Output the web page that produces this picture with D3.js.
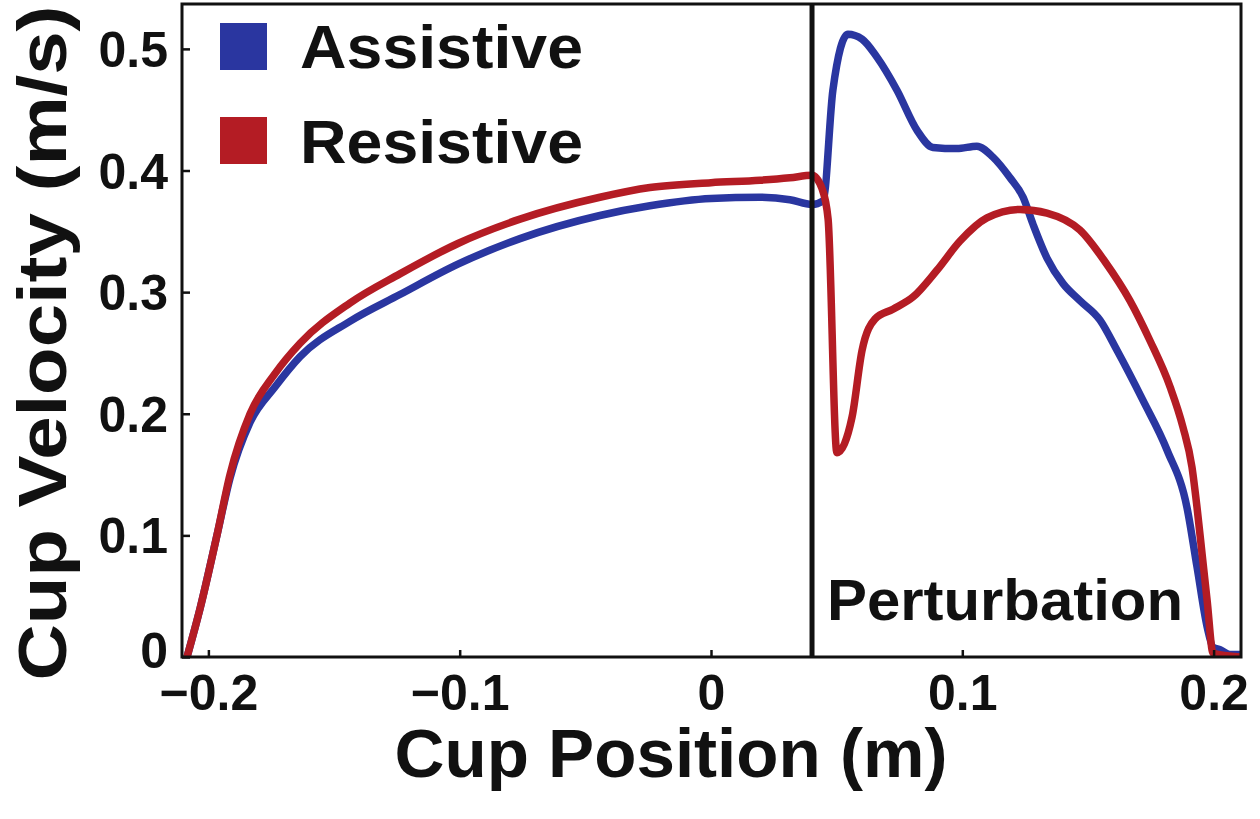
<!DOCTYPE html>
<html><head><meta charset="utf-8">
<script src="https://cdn.jsdelivr.net/npm/d3@7"></script>
<style>body{margin:0;background:#fff}svg{display:block}</style>
</head><body><svg id="c" width="1260" height="819"></svg>
<script>
const seriesNames = ["Assistive", "Resistive"];
const seriesColors = ["#2a36a0", "#b41c24"];
const assistX = [-0.2085,-0.2033,-0.1966,-0.1914,-0.1834,-0.1735,-0.1635,-0.1437,-0.1238,-0.1007,-0.0760,-0.0442,-0.0243,0,0.0195,0.0314,0.0402,0.0446,0.0485,0.0545,0.0601,0.0661,0.0740,0.0820,0.0883,0.0979,0.1058,0.1122,0.1190,0.1242,0.1281,0.1337,0.1401,0.1468,0.1548,0.1616,0.1719,0.1815,0.1894,0.1934,0.1974,0.1998,0.2026,0.2065,0.2105];
const assistY = [0,0.04,0.10,0.147,0.193,0.222,0.247,0.276,0.298,0.323,0.344,0.363,0.371,0.377,0.378,0.376,0.372,0.375,0.466,0.512,0.508,0.493,0.466,0.433,0.419,0.418,0.420,0.411,0.394,0.378,0.356,0.328,0.307,0.293,0.277,0.252,0.211,0.170,0.123,0.074,0.025,0.008,0.006,0.002,0.002];
const resistX = [-0.2085,-0.2033,-0.1966,-0.1914,-0.1834,-0.1735,-0.1635,-0.1437,-0.1238,-0.1007,-0.0760,-0.0442,-0.0243,0,0.0195,0.0314,0.0402,0.0442,0.0466,0.0501,0.0561,0.0601,0.0653,0.0724,0.0804,0.0899,0.0991,0.1098,0.1230,0.1337,0.1468,0.1568,0.1667,0.1747,0.1827,0.1878,0.1914,0.1934,0.1954,0.1974,0.1998,0.2105];
const resistY = [0,0.04,0.10,0.15,0.20,0.233,0.258,0.291,0.315,0.340,0.360,0.378,0.386,0.390,0.392,0.394,0.396,0.385,0.36,0.168,0.197,0.252,0.278,0.286,0.296,0.318,0.342,0.361,0.368,0.365,0.351,0.325,0.293,0.260,0.222,0.189,0.156,0.123,0.085,0.047,0.003,0];
const xTicks = [-0.2,-0.1,0,0.1,0.2];
const xTickLabels = ["\u22120.2","\u22120.1","0","0.1","0.2"];
const yTicks = [0,0.1,0.2,0.3,0.4,0.5];
const yTickLabels = ["0","0.1","0.2","0.3","0.4","0.5"];
const perturbationX = 0.0402;
const xTitle = "Cup Position (m)";
const yTitle = "Cup Velocity (m/s)";
const annotation = "Perturbation";

const svg = d3.select("#c");
const font = "'Liberation Sans', Arial, sans-serif";
const L = 182, R = 1241, T = 4, B = 657;
const x = d3.scaleLinear().domain([-0.2105, 0.2109]).range([L, R]);
const y = d3.scaleLinear().domain([0, 0.5369]).range([B, T]);

const series = [
  {name: seriesNames[0], color: seriesColors[0], pts: assistX.map((v,i)=>[v, assistY[i]])},
  {name: seriesNames[1], color: seriesColors[1], pts: resistX.map((v,i)=>[v, resistY[i]])}
];

svg.append("defs").append("clipPath").attr("id","clip").append("rect")
  .attr("x",L).attr("y",T).attr("width",R-L).attr("height",B-T);

const line = d3.line().x(d=>x(d[0])).y(d=>y(d[1])).curve(d3.curveMonotoneX);
svg.append("g").attr("clip-path","url(#clip)").selectAll("path").data(series).join("path")
  .attr("d", d=>line(d.pts)).attr("fill","none").attr("stroke", d=>d.color)
  .attr("stroke-width",7.5).attr("stroke-linejoin","round").attr("stroke-linecap","round");

// perturbation line
svg.append("line").attr("x1",x(perturbationX)).attr("x2",x(perturbationX))
  .attr("y1",T).attr("y2",B).attr("stroke","#111").attr("stroke-width",5);

// axes
const xa = svg.append("g").attr("transform",`translate(0,${B})`)
  .call(d3.axisBottom(x).tickValues(xTicks).tickFormat((d,i)=>xTickLabels[i]).tickSizeInner(-7).tickSizeOuter(0).tickPadding(17));
const ya = svg.append("g").attr("transform",`translate(${L},0)`)
  .call(d3.axisLeft(y).tickValues(yTicks).tickFormat((d,i)=>yTickLabels[i]).tickSizeInner(-8).tickSizeOuter(0).tickPadding(14));
[xa, ya].forEach(a=>{
  a.select(".domain").remove();
  a.selectAll(".tick line").attr("stroke","#111").attr("stroke-width",2.5);
  a.selectAll(".tick text").attr("font-family",font).attr("font-weight","bold")
    .attr("font-size",50).attr("fill","#111");
});
ya.selectAll(".tick text").attr("dy",(d,i)=> i===0 ? "0.2em" : "0.35em");
xa.selectAll(".tick text").attr("dy","0.71em");

// frame
svg.append("rect").attr("x",L).attr("y",T).attr("width",R-L).attr("height",B-T)
  .attr("fill","none").attr("stroke","#111").attr("stroke-width",3);

// titles
svg.append("text").attr("x",671).attr("y",777).attr("text-anchor","middle")
  .attr("font-family",font).attr("font-weight","bold").attr("font-size",68).attr("fill","#111")
  .attr("textLength",553).attr("lengthAdjust","spacingAndGlyphs").text(xTitle);
svg.append("text").attr("transform",`translate(66,343) rotate(-90)`).attr("text-anchor","middle")
  .attr("font-family",font).attr("font-weight","bold").attr("font-size",68).attr("fill","#111")
  .attr("textLength",675).attr("lengthAdjust","spacingAndGlyphs").text(yTitle);

// annotation
svg.append("text").attr("x",827).attr("y",620).attr("font-family",font).attr("font-weight","bold")
  .attr("font-size",57).attr("fill","#111").attr("textLength",356).attr("lengthAdjust","spacingAndGlyphs").text(annotation);

// legend
const lg = svg.append("g");
series.forEach((s,i)=>{
  lg.append("rect").attr("x",220).attr("y",23+i*94).attr("width",47).attr("height",47).attr("fill",s.color);
  lg.append("text").attr("x",300).attr("y",68+i*95).attr("font-family",font).attr("font-weight","bold")
    .attr("font-size",62).attr("fill","#111").attr("textLength",283).attr("lengthAdjust","spacingAndGlyphs").text(s.name);
});
</script></body></html>
